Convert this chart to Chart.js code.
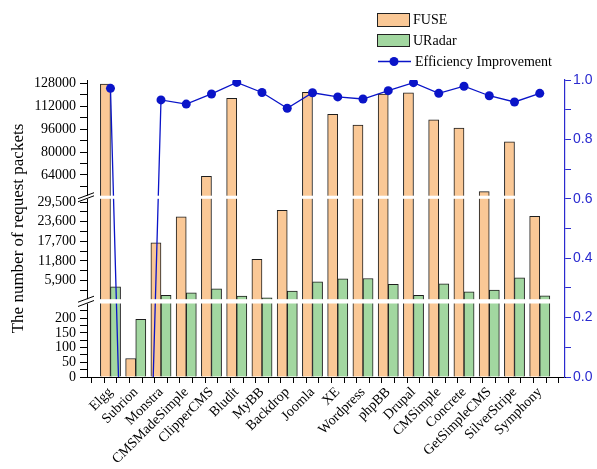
<!DOCTYPE html>
<html>
<head>
<meta charset="utf-8">
<script src="https://cdn.jsdelivr.net/npm/chart.js@4.4.1/dist/chart.umd.min.js"></script>
<style>
  html, body { margin: 0; padding: 0; background: #fff; }
</style>
</head>
<body>
<canvas id="packetsChart" width="597" height="469"></canvas>
<script>
var categories = ['Elgg', 'Subrion', 'Monstra', 'CMSMadeSimple', 'ClipperCMS', 'Bludit', 'MyBB', 'Backdrop',
    'Joomla', 'XE', 'Wordpress', 'phpBB', 'Drupal', 'CMSimple', 'Concrete', 'GetSimpleCMS', 'SilverStripe', 'Symphony'];

var fuse = [127500, 63, 17260, 25100, 63000, 117500, 12230, 27000, 121700,
    106300, 98900, 120500, 121400, 102400, 96800, 52300, 87200, 25200];

var uradar = [4000, 196, 1380, 2190, 3400, 1170, 690, 2680, 5510,
    6410, 6500, 4700, 1380, 4900, 2490, 2980, 6710, 1290];

var efficiency = [0.972, -2.1, 0.933, 0.919, 0.953, 0.992, 0.958, 0.905, 0.957,
    0.943, 0.936, 0.964, 0.991, 0.955, 0.979, 0.947, 0.926, 0.955];

// left axis tick labels, one list per segment of the broken axis
var lowTicks = [0, 50, 100, 150, 200];
var midTicks = [5900, 11800, 17700, 23600, 29500];
var highTicks = [64000, 80000, 96000, 112000, 128000];
var minorTicks = [25, 75, 125, 175, 225, 2950, 8850, 14750, 20650, 26550, 56000, 72000, 88000, 104000, 120000];

// broken axis: value range [lo, hi] is drawn on [from, to] of a 0..297 band
var VSPAN = 297;
var segments = [
    {lo: 0, hi: 250, from: 0, to: 73.5},
    {lo: 250, hi: 30500, from: 77.8, to: 178.2},
    {lo: 49500, hi: 130300, from: 181.3, to: 297}
];

var fuseColor = '#FAC896';
var uradarColor = '#A2D7A0';
var lineBlue = '#0A14C8';
var axisBlue = '#2A2ACF';
var serif = '"Liberation Serif", "Times New Roman", serif';
var sans = '"Liberation Sans", Arial, sans-serif';

function toVirtual(value) {
    for (var i = 0; i < segments.length; i++) {
        var s = segments[i];
        if (value <= s.hi || i === segments.length - 1) {
            if (i > 0 && value < s.lo) {
                var p = segments[i - 1];
                return p.to + (value - p.hi) / (s.lo - p.hi) * (s.from - p.to);
            }
            return s.from + (value - s.lo) / (s.hi - s.lo) * (s.to - s.from);
        }
    }
}

function fromVirtual(v) {
    for (var i = 0; i < segments.length; i++) {
        var s = segments[i];
        if (v <= s.to || i === segments.length - 1) {
            return s.lo + (v - s.from) / (s.to - s.from) * (s.hi - s.lo);
        }
    }
}

class BrokenScale extends Chart.LinearScale {
    buildTicks() {
        return lowTicks.concat(midTicks, highTicks, minorTicks)
            .sort(function (a, b) { return a - b; })
            .map(function (v) { return {value: v}; });
    }
    getPixelForValue(value) {
        return this.bottom - toVirtual(value) / VSPAN * (this.bottom - this.top);
    }
    getValueForPixel(pixel) {
        return fromVirtual((this.bottom - pixel) / (this.bottom - this.top) * VSPAN);
    }
}
BrokenScale.id = 'broken';
Chart.register(BrokenScale);

// white gaps and // marks where the left axis is broken
var breakPlugin = {
    id: 'axisBreaks',
    afterDatasetsDraw: function (chart) {
        var ctx = chart.ctx;
        var y = chart.scales.y;
        var h = y.bottom - y.top;
        ctx.save();
        for (var i = 0; i < segments.length - 1; i++) {
            var yBot = y.bottom - segments[i].to / VSPAN * h;
            var yTop = y.bottom - segments[i + 1].from / VSPAN * h;
            ctx.fillStyle = '#fff';
            ctx.fillRect(y.right - 6, yTop, chart.chartArea.right - 12 - (y.right - 6), yBot - yTop);
            ctx.strokeStyle = '#000';
            ctx.lineWidth = 1;
            [yTop, yBot].forEach(function (yy) {
                ctx.beginPath();
                ctx.moveTo(y.right - 9, yy + 3);
                ctx.lineTo(y.right + 7, yy - 3);
                ctx.stroke();
            });
        }
        ctx.restore();
    }
};

var legendPlugin = {
    id: 'boxLegend',
    afterDraw: function (chart) {
        var ctx = chart.ctx;
        ctx.save();
        ctx.font = '14px ' + serif;
        ctx.textBaseline = 'middle';
        ctx.fillStyle = fuseColor;
        ctx.fillRect(377.5, 13.5, 32, 13);
        ctx.strokeStyle = '#222';
        ctx.lineWidth = 1;
        ctx.strokeRect(377.5, 13.5, 32, 13);
        ctx.fillStyle = uradarColor;
        ctx.fillRect(377.5, 34.5, 32, 12);
        ctx.strokeRect(377.5, 34.5, 32, 12);
        ctx.strokeStyle = lineBlue;
        ctx.lineWidth = 1.3;
        ctx.beginPath();
        ctx.moveTo(378, 61.5);
        ctx.lineTo(411, 61.5);
        ctx.stroke();
        ctx.fillStyle = lineBlue;
        ctx.beginPath();
        ctx.arc(394, 61.5, 4.5, 0, Math.PI * 2);
        ctx.fill();
        ctx.fillStyle = '#000';
        ctx.fillText('FUSE', 413, 20.5);
        ctx.fillText('URadar', 413, 41);
        ctx.fillText('Efficiency Improvement', 415, 62);
        ctx.restore();
    }
};

var xTickValues = [];
for (var t = -0.5; t <= 17.5; t += 0.5) xTickValues.push(t);

var ctxBar = document.getElementById('packetsChart');

var packetsChart = new Chart(ctxBar, {
    type: 'bar',
    data: {
        datasets: [{
            type: 'line',
            label: 'Efficiency Improvement',
            data: efficiency.map(function (v, i) { return {x: i, y: v}; }),
            yAxisID: 'y1',
            order: 0,
            borderColor: lineBlue,
            backgroundColor: lineBlue,
            borderWidth: 1.3,
            pointRadius: 4.5,
            pointHoverRadius: 4.5,
            pointBorderWidth: 0,
            tension: 0
        }, {
            label: 'FUSE',
            data: fuse.map(function (v, i) { return {x: i, y: v}; }),
            yAxisID: 'y',
            order: 1,
            backgroundColor: fuseColor,
            borderColor: '#1e1e1e',
            borderWidth: 1,
            barThickness: 10.1
        }, {
            label: 'URadar',
            data: uradar.map(function (v, i) { return {x: i, y: v}; }),
            yAxisID: 'y',
            order: 1,
            backgroundColor: uradarColor,
            borderColor: '#1e1e1e',
            borderWidth: 1,
            barThickness: 10.1
        }]
    },
    options: {
        responsive: false,
        animation: false,
        devicePixelRatio: 1,
        layout: {padding: {top: 80, left: 0, right: 0, bottom: 0}},
        plugins: {
            legend: {display: false},
            tooltip: {enabled: false}
        },
        scales: {
            x: {
                type: 'linear',
                offset: false,
                min: -0.93,
                max: 18,
                afterBuildTicks: function (scale) {
                    scale.ticks = xTickValues.map(function (v) { return {value: v}; });
                },
                afterFit: function (scale) { scale.height = 92; },
                grid: {display: true, drawOnChartArea: false, tickLength: 6, color: '#000'},
                border: {display: true, color: '#000', width: 1},
                ticks: {
                    autoSkip: false,
                    maxRotation: 45,
                    minRotation: 45,
                    padding: 1,
                    color: '#000',
                    font: {family: serif, size: 14},
                    callback: function (value) {
                        return Number.isInteger(value) ? categories[value] : '';
                    }
                }
            },
            y: {
                type: 'broken',
                position: 'left',
                min: 0,
                max: 130300,
                afterFit: function (scale) { scale.width = 87; },
                grid: {display: true, drawOnChartArea: false, tickLength: 7, color: '#000'},
                border: {display: true, color: '#000', width: 1},
                title: {
                    display: true,
                    text: 'The number of request packets',
                    color: '#000',
                    font: {family: serif, size: 17},
                    padding: {top: 8, bottom: 0}
                },
                ticks: {
                    autoSkip: false,
                    padding: 4,
                    color: '#000',
                    font: {family: serif, size: 14},
                    callback: function (value) {
                        if (midTicks.indexOf(value) >= 0) return value.toLocaleString('en-US');
                        if (lowTicks.indexOf(value) >= 0 || highTicks.indexOf(value) >= 0) return String(value);
                        return '';
                    }
                }
            },
            y1: {
                type: 'linear',
                position: 'right',
                min: 0,
                max: 1,
                afterFit: function (scale) { scale.width = 32; },
                grid: {display: true, drawOnChartArea: false, tickLength: 6, color: axisBlue},
                border: {display: true, color: axisBlue, width: 1.2},
                ticks: {
                    stepSize: 0.1,
                    autoSkip: false,
                    padding: 2,
                    color: axisBlue,
                    font: {family: sans, size: 14},
                    callback: function (value) {
                        return Math.round(value * 10) % 2 === 0 ? value.toFixed(1) : '';
                    }
                }
            }
        }
    },
    plugins: [breakPlugin, legendPlugin]
});
</script>
</body>
</html>
